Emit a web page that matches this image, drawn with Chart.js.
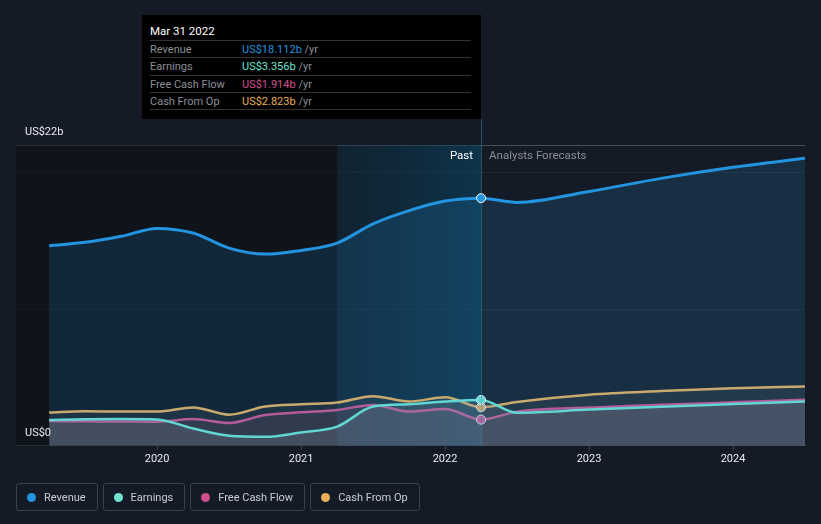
<!DOCTYPE html>
<html>
<head>
<meta charset="utf-8">
<script src="https://cdn.jsdelivr.net/npm/chart.js@4.4.1/dist/chart.umd.min.js"></script>
<style>
  html, body { margin: 0; padding: 0; background: #151b26; }
  body { width: 821px; height: 524px; position: relative; overflow: hidden; font-family: Roboto, "Noto Sans", sans-serif; }
  #chart { position: absolute; left: 0; top: 0; }
  .tip { position: absolute; left: 142px; top: 15px; width: 339px; height: 104px; background: #000; box-sizing: border-box; padding: 9px 10px 0 8px; font-size: 11px; }
  .tip .date { color: #fff; font-size: 11.5px; height: 16px; border-bottom: 1px solid #333; }
  .tip .row { display: flex; height: 16.3px; line-height: 17px; border-bottom: 1px solid #333; color: #8c8f96; }
  .tip .row span:first-child { width: 92px; }
  .tip .unit { color: #8c8f96; }
  .legend { position: absolute; top: 483px; left: 16px; display: flex; gap: 5px; }
  .legend div { height: 28px; border: 1px solid #3a404c; border-radius: 3px; box-sizing: border-box; padding: 0 11px 0 10px; display: flex; align-items: center; color: #c9ccd2; font-size: 11px; }
  .legend i { width: 9px; height: 9px; border-radius: 50%; margin-right: 8px; display: inline-block; }
</style>
</head>
<body>
<canvas id="chart" width="821" height="524"></canvas>
<div class="tip" id="tip"></div>
<div class="legend" id="legend"></div>
<script>
(function () {
  "use strict";

  // quarter-ends as decimal years; the last five are analyst forecasts
  var periods = [2019.25, 2019.5, 2019.75, 2020, 2020.25, 2020.5, 2020.75, 2021, 2021.25,
    2021.5, 2021.75, 2022, 2022.25, 2022.5, 2023, 2023.5, 2024, 2024.5];
  var revenue = [14.63, 14.88, 15.32, 15.9, 15.56, 14.46, 14.02, 14.29, 14.83,
    16.23, 17.2, 17.9, 18.112, 17.8, 18.6, 19.56, 20.37, 21.03];
  var earnings = [1.89, 1.95, 1.96, 1.93, 1.27, 0.74, 0.66, 0.98, 1.4,
    2.87, 3.04, 3.24, 3.356, 2.42, 2.65, 2.86, 3.05, 3.24];
  var freeCashFlow = [1.81, 1.79, 1.78, 1.76, 1.96, 1.67, 2.25, 2.45, 2.62,
    2.99, 2.5, 2.7, 1.914, 2.5, 2.8, 3.0, 3.18, 3.36];
  var cashFromOp = [2.43, 2.52, 2.5, 2.5, 2.8, 2.28, 2.87, 3.04, 3.16,
    3.63, 3.24, 3.55, 2.823, 3.2, 3.73, 4.0, 4.21, 4.34];
  var yearTicks = [2020, 2021, 2022, 2023, 2024];
  var yTicks = [0, 10, 20, 22];
  var yLabels = { 0: "US$0", 22: "US$22b" };
  var nowPeriod = 2022.25;
  var highlightFrom = 2021.25;
  var tipDate = "Mar 31 2022";

  var series = [
    { name: "Revenue", values: revenue, color: "#2394df", fill: "rgba(35,148,223,0.16)", width: 3 },
    { name: "Earnings", values: earnings, color: "#6ee3cf", fill: "rgba(150,150,155,0.22)", width: 2.5 },
    { name: "Free Cash Flow", values: freeCashFlow, color: "#d0508c", fill: "rgba(190,100,120,0.14)", width: 2.5 },
    { name: "Cash From Op", values: cashFromOp, color: "#e9ae59", fill: "rgba(120,120,110,0.14)", width: 2.5 }
  ];
  var nowIndex = periods.indexOf(nowPeriod);

  function fmt(v) {
    return "US$" + v.toFixed(3) + "b";
  }

  var tip = document.getElementById("tip");
  var html = '<div class="date">' + tipDate + "</div>";
  series.forEach(function (s) {
    html += '<div class="row"><span>' + s.name + '</span><span><span style="color:' + s.color + '">' +
      fmt(s.values[nowIndex]) + '</span> <span class="unit">/yr</span></span></div>';
  });
  tip.innerHTML = html;

  var legend = document.getElementById("legend");
  series.forEach(function (s) {
    var item = document.createElement("div");
    item.innerHTML = '<i style="background:' + s.color + '"></i>' + s.name;
    legend.appendChild(item);
  });

  var backdrop = {
    id: "backdrop",
    beforeDatasetsDraw: function (chart) {
      var ctx = chart.ctx, area = chart.chartArea, x = chart.scales.x;
      var xNow = x.getPixelForValue(nowPeriod);
      var xHi = x.getPixelForValue(highlightFrom);
      ctx.save();
      ctx.fillStyle = "rgba(8,10,14,0.45)";
      ctx.fillRect(area.left, area.top, xHi - area.left, area.bottom - area.top);
      var g = ctx.createLinearGradient(xHi, 0, xNow, 0);
      g.addColorStop(0, "rgba(10,50,70,0.35)");
      g.addColorStop(1, "rgba(10,70,100,0.6)");
      ctx.fillStyle = g;
      ctx.fillRect(xHi, area.top, xNow - xHi, area.bottom - area.top);
      ctx.restore();
    },
    afterDatasetsDraw: function (chart) {
      var ctx = chart.ctx, area = chart.chartArea, x = chart.scales.x, y = chart.scales.y;
      var xNow = x.getPixelForValue(nowPeriod);
      ctx.save();
      ctx.strokeStyle = "rgba(70,140,160,0.45)";
      ctx.lineWidth = 1;
      ctx.beginPath();
      ctx.moveTo(Math.round(xNow) + 0.5, 119);
      ctx.lineTo(Math.round(xNow) + 0.5, area.bottom);
      ctx.stroke();
      ctx.font = "11.5px Roboto";
      ctx.textBaseline = "middle";
      ctx.textAlign = "right";
      ctx.fillStyle = "#ffffff";
      ctx.fillText("Past", xNow - 8, area.top + 11);
      ctx.textAlign = "left";
      ctx.fillStyle = "#8a8e96";
      ctx.fillText("Analysts Forecasts", xNow + 8, area.top + 11);
      ctx.font = "11px Roboto";
      ctx.fillStyle = "#e8eaee";
      Object.keys(yLabels).forEach(function (k) {
        ctx.fillText(yLabels[k], area.left + 9, y.getPixelForValue(+k) - 13);
      });
      ctx.restore();
    }
  };

  var datasets = series.map(function (s, i) {
    return {
      label: s.name,
      data: periods.map(function (p, j) { return { x: p, y: s.values[j] }; }),
      borderColor: s.color,
      backgroundColor: s.fill,
      borderWidth: s.width,
      fill: "origin",
      cubicInterpolationMode: "monotone",
      pointRadius: function (c) { return c.dataIndex === nowIndex ? 4.5 : 0; },
      pointBackgroundColor: s.color,
      pointBorderColor: "#ffffff",
      pointBorderWidth: 1,
      order: i
    };
  });

  new Chart(document.getElementById("chart"), {
    type: "line",
    data: { datasets: datasets },
    options: {
      responsive: false,
      animation: false,
      layout: { padding: { left: 16, right: 16, top: 145, bottom: 55 } },
      plugins: { legend: { display: false }, tooltip: { enabled: false } },
      scales: {
        x: {
          type: "linear",
          min: 2019.02,
          max: 2024.5,
          afterBuildTicks: function (axis) {
            axis.ticks = yearTicks.map(function (v) { return { value: v }; });
          },
          grid: { drawOnChartArea: false, color: "#3a404c", tickLength: 4 },
          border: { color: "#3a404c" },
          ticks: { color: "#e8eaee", font: { family: "Roboto", size: 11 }, padding: 3, maxRotation: 0,
            callback: function (v) { return String(v); } }
        },
        y: {
          min: 0,
          max: 22,
          afterBuildTicks: function (axis) {
            axis.ticks = yTicks.map(function (v) { return { value: v }; });
          },
          grid: {
            drawTicks: false,
            color: function (c) {
              if (c.tick.value === 22) return "rgba(255,255,255,0.22)";
              if (c.tick.value === 0) return "rgba(0,0,0,0)";
              return "rgba(255,255,255,0.06)";
            }
          },
          border: { display: false },
          ticks: { display: false }
        }
      }
    },
    plugins: [backdrop]
  });
})();
</script>
</body>
</html>
